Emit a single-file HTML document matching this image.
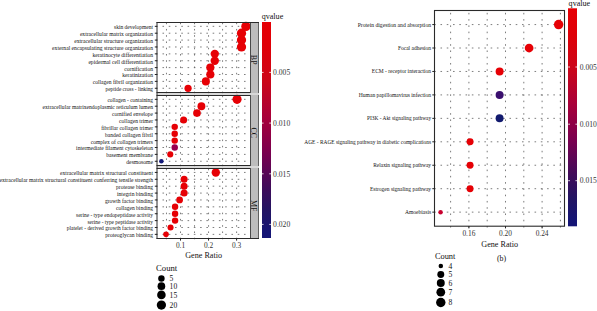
<!DOCTYPE html>
<html><head><meta charset="utf-8"><style>
html,body{margin:0;padding:0;background:#fff;width:597px;height:311px;overflow:hidden}
svg{display:block;font-family:"Liberation Serif", serif}
</style></head><body>
<svg width="597" height="311" viewBox="0 0 597 311">
<rect width="597" height="311" fill="#fff"/>
<defs><linearGradient id="cg" x1="0" y1="0" x2="0" y2="1"><stop offset="0" stop-color="#e60005"/><stop offset="0.12" stop-color="#df0008"/><stop offset="0.27" stop-color="#cc0618"/><stop offset="0.44" stop-color="#a8003a"/><stop offset="0.61" stop-color="#780050"/><stop offset="0.77" stop-color="#3e0c5a"/><stop offset="0.87" stop-color="#231462"/><stop offset="0.975" stop-color="#151575"/><stop offset="1" stop-color="#151575"/></linearGradient></defs>
<rect x="157.0" y="93.0" width="102.00" height="2.00" fill="#d8d8d8"/>
<rect x="157.0" y="166.0" width="102.00" height="2.00" fill="#d8d8d8"/>
<g stroke="#666" stroke-width="0.85" fill="none" stroke-dasharray="1.57 4.7">
<line x1="156.22" y1="26.33" x2="250.5" y2="26.33"/>
<line x1="156.22" y1="33.21" x2="250.5" y2="33.21"/>
<line x1="156.22" y1="40.09" x2="250.5" y2="40.09"/>
<line x1="156.22" y1="46.98" x2="250.5" y2="46.98"/>
<line x1="156.22" y1="53.86" x2="250.5" y2="53.86"/>
<line x1="156.22" y1="60.74" x2="250.5" y2="60.74"/>
<line x1="156.22" y1="67.62" x2="250.5" y2="67.62"/>
<line x1="156.22" y1="74.51" x2="250.5" y2="74.51"/>
<line x1="156.22" y1="81.39" x2="250.5" y2="81.39"/>
<line x1="156.22" y1="88.27" x2="250.5" y2="88.27"/>
<line x1="166.47" y1="93.18" x2="166.47" y2="22.20"/>
<line x1="180.50" y1="93.18" x2="180.50" y2="22.20"/>
<line x1="194.53" y1="93.18" x2="194.53" y2="22.20"/>
<line x1="208.55" y1="93.18" x2="208.55" y2="22.20"/>
<line x1="222.57" y1="93.18" x2="222.57" y2="22.20"/>
<line x1="236.60" y1="93.18" x2="236.60" y2="22.20"/>
</g>
<rect x="250.5" y="22.0" width="8" height="71.00" fill="#bdbdbd"/>
<line x1="258.5" y1="22.0" x2="258.5" y2="93.0" stroke="#606060" stroke-width="1"/>
<text x="253.90" y="59.70" font-size="7.9" fill="#111" text-anchor="middle" dominant-baseline="central" transform="rotate(90 253.90 59.70)">BP</text>
<circle cx="245.95" cy="26.33" r="4.70" fill="#e60005"/>
<circle cx="241.50" cy="33.21" r="4.63" fill="#e60005"/>
<circle cx="241.50" cy="40.09" r="4.63" fill="#e60005"/>
<circle cx="241.50" cy="46.98" r="4.63" fill="#e60005"/>
<circle cx="214.78" cy="53.86" r="4.20" fill="#e60005"/>
<circle cx="214.78" cy="60.74" r="4.20" fill="#e60005"/>
<circle cx="210.33" cy="67.62" r="4.11" fill="#e60005"/>
<circle cx="210.33" cy="74.51" r="4.11" fill="#e60005"/>
<circle cx="205.88" cy="81.39" r="4.03" fill="#e60005"/>
<circle cx="188.07" cy="88.27" r="3.63" fill="#e60005"/>
<path d="M156.5 22.5H250.5V92.5H156.5" fill="none" stroke="#2a2a2a" stroke-width="1"/>
<line x1="250.5" y1="22.0" x2="250.5" y2="93.0" stroke="#4a4a4a" stroke-width="1"/>
<line x1="154.8" y1="26.33" x2="157.0" y2="26.33" stroke="#222" stroke-width="1"/>
<text x="114.1" y="29.23" font-size="5.6" textLength="38.90" lengthAdjust="spacingAndGlyphs" fill="#111">skin development</text>
<line x1="154.8" y1="33.21" x2="157.0" y2="33.21" stroke="#222" stroke-width="1"/>
<text x="79.9" y="36.11" font-size="5.6" textLength="73.10" lengthAdjust="spacingAndGlyphs" fill="#111">extracellular matrix organization</text>
<line x1="154.8" y1="40.09" x2="157.0" y2="40.09" stroke="#222" stroke-width="1"/>
<text x="74.2" y="42.99" font-size="5.6" textLength="78.80" lengthAdjust="spacingAndGlyphs" fill="#111">extracellular structure organization</text>
<line x1="154.8" y1="46.98" x2="157.0" y2="46.98" stroke="#222" stroke-width="1"/>
<text x="52.1" y="49.88" font-size="5.6" textLength="100.90" lengthAdjust="spacingAndGlyphs" fill="#111">external encapsulating structure organization</text>
<line x1="154.8" y1="53.86" x2="157.0" y2="53.86" stroke="#222" stroke-width="1"/>
<text x="92.5" y="56.76" font-size="5.6" textLength="60.50" lengthAdjust="spacingAndGlyphs" fill="#111">keratinocyte differentiation</text>
<line x1="154.8" y1="60.74" x2="157.0" y2="60.74" stroke="#222" stroke-width="1"/>
<text x="88.4" y="63.64" font-size="5.6" textLength="64.60" lengthAdjust="spacingAndGlyphs" fill="#111">epidermal cell differentiation</text>
<line x1="154.8" y1="67.62" x2="157.0" y2="67.62" stroke="#222" stroke-width="1"/>
<text x="124.3" y="70.52" font-size="5.6" textLength="28.70" lengthAdjust="spacingAndGlyphs" fill="#111">cornification</text>
<line x1="154.8" y1="74.51" x2="157.0" y2="74.51" stroke="#222" stroke-width="1"/>
<text x="122.3" y="77.41" font-size="5.6" textLength="30.70" lengthAdjust="spacingAndGlyphs" fill="#111">keratinization</text>
<line x1="154.8" y1="81.39" x2="157.0" y2="81.39" stroke="#222" stroke-width="1"/>
<text x="92.8" y="84.29" font-size="5.6" textLength="60.20" lengthAdjust="spacingAndGlyphs" fill="#111">collagen fibril organization</text>
<line x1="154.8" y1="88.27" x2="157.0" y2="88.27" stroke="#222" stroke-width="1"/>
<text x="105.6" y="91.17" font-size="5.6" textLength="47.40" lengthAdjust="spacingAndGlyphs" fill="#111">peptide cross - linking</text>
<g stroke="#666" stroke-width="0.85" fill="none" stroke-dasharray="1.57 4.7">
<line x1="156.22" y1="99.33" x2="250.5" y2="99.33"/>
<line x1="156.22" y1="106.21" x2="250.5" y2="106.21"/>
<line x1="156.22" y1="113.09" x2="250.5" y2="113.09"/>
<line x1="156.22" y1="119.98" x2="250.5" y2="119.98"/>
<line x1="156.22" y1="126.86" x2="250.5" y2="126.86"/>
<line x1="156.22" y1="133.74" x2="250.5" y2="133.74"/>
<line x1="156.22" y1="140.62" x2="250.5" y2="140.62"/>
<line x1="156.22" y1="147.51" x2="250.5" y2="147.51"/>
<line x1="156.22" y1="154.39" x2="250.5" y2="154.39"/>
<line x1="156.22" y1="161.27" x2="250.5" y2="161.27"/>
<line x1="166.47" y1="166.18" x2="166.47" y2="95.20"/>
<line x1="180.50" y1="166.18" x2="180.50" y2="95.20"/>
<line x1="194.53" y1="166.18" x2="194.53" y2="95.20"/>
<line x1="208.55" y1="166.18" x2="208.55" y2="95.20"/>
<line x1="222.57" y1="166.18" x2="222.57" y2="95.20"/>
<line x1="236.60" y1="166.18" x2="236.60" y2="95.20"/>
</g>
<rect x="250.5" y="95.0" width="8" height="71.00" fill="#bdbdbd"/>
<line x1="258.5" y1="95.0" x2="258.5" y2="166.0" stroke="#606060" stroke-width="1"/>
<text x="253.90" y="132.70" font-size="7.9" fill="#111" text-anchor="middle" dominant-baseline="central" transform="rotate(90 253.90 132.70)">CC</text>
<circle cx="237.05" cy="99.33" r="4.57" fill="#e60005"/>
<circle cx="201.43" cy="106.21" r="3.94" fill="#e60005"/>
<circle cx="196.97" cy="113.09" r="3.84" fill="#e60005"/>
<circle cx="183.62" cy="119.98" r="3.51" fill="#e60005"/>
<circle cx="174.71" cy="126.86" r="3.22" fill="#e60005"/>
<circle cx="174.71" cy="133.74" r="3.22" fill="#e60005"/>
<circle cx="174.71" cy="140.62" r="3.22" fill="#e60005"/>
<circle cx="174.71" cy="147.51" r="3.22" fill="#990050"/>
<circle cx="170.26" cy="154.39" r="3.04" fill="#e60005"/>
<circle cx="161.35" cy="161.27" r="2.25" fill="#141a7a"/>
<path d="M156.5 95.5H250.5V165.5H156.5" fill="none" stroke="#2a2a2a" stroke-width="1"/>
<line x1="250.5" y1="95.0" x2="250.5" y2="166.0" stroke="#4a4a4a" stroke-width="1"/>
<line x1="154.8" y1="99.33" x2="157.0" y2="99.33" stroke="#222" stroke-width="1"/>
<text x="107.4" y="102.23" font-size="5.6" textLength="45.60" lengthAdjust="spacingAndGlyphs" fill="#111">collagen - containing</text>
<line x1="154.8" y1="106.21" x2="157.0" y2="106.21" stroke="#222" stroke-width="1"/>
<text x="42.6" y="109.11" font-size="5.6" textLength="110.40" lengthAdjust="spacingAndGlyphs" fill="#111">extracellular matrixendoplasmic reticulum lumen</text>
<line x1="154.8" y1="113.09" x2="157.0" y2="113.09" stroke="#222" stroke-width="1"/>
<text x="112.1" y="115.99" font-size="5.6" textLength="40.90" lengthAdjust="spacingAndGlyphs" fill="#111">cornified envelope</text>
<line x1="154.8" y1="119.98" x2="157.0" y2="119.98" stroke="#222" stroke-width="1"/>
<text x="119.1" y="122.88" font-size="5.6" textLength="33.90" lengthAdjust="spacingAndGlyphs" fill="#111">collagen trimer</text>
<line x1="154.8" y1="126.86" x2="157.0" y2="126.86" stroke="#222" stroke-width="1"/>
<text x="101.2" y="129.76" font-size="5.6" textLength="51.80" lengthAdjust="spacingAndGlyphs" fill="#111">fibrillar collagen trimer</text>
<line x1="154.8" y1="133.74" x2="157.0" y2="133.74" stroke="#222" stroke-width="1"/>
<text x="105.0" y="136.64" font-size="5.6" textLength="48.00" lengthAdjust="spacingAndGlyphs" fill="#111">banded collagen fibril</text>
<line x1="154.8" y1="140.62" x2="157.0" y2="140.62" stroke="#222" stroke-width="1"/>
<text x="90.8" y="143.52" font-size="5.6" textLength="62.20" lengthAdjust="spacingAndGlyphs" fill="#111">complex of collagen trimers</text>
<line x1="154.8" y1="147.51" x2="157.0" y2="147.51" stroke="#222" stroke-width="1"/>
<text x="76.1" y="150.41" font-size="5.6" textLength="76.90" lengthAdjust="spacingAndGlyphs" fill="#111">intermediate filament cytoskeleton</text>
<line x1="154.8" y1="154.39" x2="157.0" y2="154.39" stroke="#222" stroke-width="1"/>
<text x="106.2" y="157.29" font-size="5.6" textLength="46.80" lengthAdjust="spacingAndGlyphs" fill="#111">basement membrane</text>
<line x1="154.8" y1="161.27" x2="157.0" y2="161.27" stroke="#222" stroke-width="1"/>
<text x="126.3" y="164.17" font-size="5.6" textLength="26.70" lengthAdjust="spacingAndGlyphs" fill="#111">desmosome</text>
<g stroke="#666" stroke-width="0.85" fill="none" stroke-dasharray="1.57 4.7">
<line x1="156.22" y1="172.43" x2="250.5" y2="172.43"/>
<line x1="156.22" y1="179.31" x2="250.5" y2="179.31"/>
<line x1="156.22" y1="186.19" x2="250.5" y2="186.19"/>
<line x1="156.22" y1="193.08" x2="250.5" y2="193.08"/>
<line x1="156.22" y1="199.96" x2="250.5" y2="199.96"/>
<line x1="156.22" y1="206.84" x2="250.5" y2="206.84"/>
<line x1="156.22" y1="213.72" x2="250.5" y2="213.72"/>
<line x1="156.22" y1="220.61" x2="250.5" y2="220.61"/>
<line x1="156.22" y1="227.49" x2="250.5" y2="227.49"/>
<line x1="156.22" y1="234.37" x2="250.5" y2="234.37"/>
<line x1="166.47" y1="239.28" x2="166.47" y2="168.30"/>
<line x1="180.50" y1="239.28" x2="180.50" y2="168.30"/>
<line x1="194.53" y1="239.28" x2="194.53" y2="168.30"/>
<line x1="208.55" y1="239.28" x2="208.55" y2="168.30"/>
<line x1="222.57" y1="239.28" x2="222.57" y2="168.30"/>
<line x1="236.60" y1="239.28" x2="236.60" y2="168.30"/>
</g>
<rect x="250.5" y="168.0" width="8" height="71.00" fill="#bdbdbd"/>
<line x1="258.5" y1="168.0" x2="258.5" y2="239.0" stroke="#606060" stroke-width="1"/>
<text x="253.90" y="205.80" font-size="7.9" fill="#111" text-anchor="middle" dominant-baseline="central" transform="rotate(90 253.90 205.80)">MF</text>
<circle cx="215.79" cy="172.43" r="4.20" fill="#e60005"/>
<circle cx="184.12" cy="179.31" r="3.51" fill="#e60005"/>
<circle cx="184.12" cy="186.19" r="3.51" fill="#e60005"/>
<circle cx="184.12" cy="193.08" r="3.51" fill="#e60005"/>
<circle cx="179.60" cy="199.96" r="3.37" fill="#e60005"/>
<circle cx="175.07" cy="206.84" r="3.22" fill="#e60005"/>
<circle cx="175.07" cy="213.72" r="3.22" fill="#e60005"/>
<circle cx="175.07" cy="220.61" r="3.22" fill="#e60005"/>
<circle cx="170.55" cy="227.49" r="3.04" fill="#e60005"/>
<circle cx="166.02" cy="234.37" r="2.81" fill="#e60005"/>
<path d="M156.5 168.5H250.5V238.5H156.5" fill="none" stroke="#2a2a2a" stroke-width="1"/>
<line x1="250.5" y1="168.0" x2="250.5" y2="239.0" stroke="#4a4a4a" stroke-width="1"/>
<line x1="154.8" y1="172.43" x2="157.0" y2="172.43" stroke="#222" stroke-width="1"/>
<text x="60.0" y="175.33" font-size="5.6" textLength="93.00" lengthAdjust="spacingAndGlyphs" fill="#111">extracellular matrix structural constituent</text>
<line x1="154.8" y1="179.31" x2="157.0" y2="179.31" stroke="#222" stroke-width="1"/>
<text x="-0.6" y="182.21" font-size="5.6" textLength="153.60" lengthAdjust="spacingAndGlyphs" fill="#111">extracellular matrix structural constituent conferring tensile strength</text>
<line x1="154.8" y1="186.19" x2="157.0" y2="186.19" stroke="#222" stroke-width="1"/>
<text x="116.0" y="189.09" font-size="5.6" textLength="37.00" lengthAdjust="spacingAndGlyphs" fill="#111">protease binding</text>
<line x1="154.8" y1="193.08" x2="157.0" y2="193.08" stroke="#222" stroke-width="1"/>
<text x="117.0" y="195.98" font-size="5.6" textLength="36.00" lengthAdjust="spacingAndGlyphs" fill="#111">integrin binding</text>
<line x1="154.8" y1="199.96" x2="157.0" y2="199.96" stroke="#222" stroke-width="1"/>
<text x="104.9" y="202.86" font-size="5.6" textLength="48.10" lengthAdjust="spacingAndGlyphs" fill="#111">growth factor binding</text>
<line x1="154.8" y1="206.84" x2="157.0" y2="206.84" stroke="#222" stroke-width="1"/>
<text x="116.0" y="209.74" font-size="5.6" textLength="37.00" lengthAdjust="spacingAndGlyphs" fill="#111">collagen binding</text>
<line x1="154.8" y1="213.72" x2="157.0" y2="213.72" stroke="#222" stroke-width="1"/>
<text x="76.1" y="216.62" font-size="5.6" textLength="76.90" lengthAdjust="spacingAndGlyphs" fill="#111">serine - type endopeptidase activity</text>
<line x1="154.8" y1="220.61" x2="157.0" y2="220.61" stroke="#222" stroke-width="1"/>
<text x="87.5" y="223.51" font-size="5.6" textLength="65.50" lengthAdjust="spacingAndGlyphs" fill="#111">serine - type peptidase activity</text>
<line x1="154.8" y1="227.49" x2="157.0" y2="227.49" stroke="#222" stroke-width="1"/>
<text x="66.7" y="230.39" font-size="5.6" textLength="86.30" lengthAdjust="spacingAndGlyphs" fill="#111">platelet - derived growth factor binding</text>
<line x1="154.8" y1="234.37" x2="157.0" y2="234.37" stroke="#222" stroke-width="1"/>
<text x="105.3" y="237.27" font-size="5.6" textLength="47.70" lengthAdjust="spacingAndGlyphs" fill="#111">proteoglycan binding</text>
<line x1="157.0" y1="22" x2="157.0" y2="239" stroke="#2a2a2a" stroke-width="1"/>
<line x1="250" y1="22.5" x2="259" y2="22.5" stroke="#2a2a2a" stroke-width="1"/>
<line x1="250" y1="238.5" x2="259" y2="238.5" stroke="#2a2a2a" stroke-width="1"/>
<line x1="180.50" y1="238.4" x2="180.50" y2="240.6" stroke="#222" stroke-width="1"/>
<text x="180.50" y="247.8" font-size="7.4" text-anchor="middle" fill="#333">0.1</text>
<line x1="208.55" y1="238.4" x2="208.55" y2="240.6" stroke="#222" stroke-width="1"/>
<text x="208.55" y="247.8" font-size="7.4" text-anchor="middle" fill="#333">0.2</text>
<line x1="236.60" y1="238.4" x2="236.60" y2="240.6" stroke="#222" stroke-width="1"/>
<text x="236.60" y="247.8" font-size="7.4" text-anchor="middle" fill="#333">0.3</text>
<text x="203.6" y="257.6" font-size="8.15" text-anchor="middle" fill="#111">Gene Ratio</text>
<rect x="262" y="22" width="9" height="216" fill="url(#cg)"/>
<text x="261.7" y="18.5" font-size="8.1" fill="#111">qvalue</text>
<line x1="261.8" y1="72.4" x2="263.6" y2="72.4" stroke="#fff" stroke-width="0.8"/>
<line x1="269.2" y1="72.4" x2="271" y2="72.4" stroke="#fff" stroke-width="0.8"/>
<text x="273.1" y="75.10" font-size="7.6" fill="#333">0.005</text>
<line x1="261.8" y1="123.1" x2="263.6" y2="123.1" stroke="#fff" stroke-width="0.8"/>
<line x1="269.2" y1="123.1" x2="271" y2="123.1" stroke="#fff" stroke-width="0.8"/>
<text x="273.1" y="125.80" font-size="7.6" fill="#333">0.010</text>
<line x1="261.8" y1="173.8" x2="263.6" y2="173.8" stroke="#fff" stroke-width="0.8"/>
<line x1="269.2" y1="173.8" x2="271" y2="173.8" stroke="#fff" stroke-width="0.8"/>
<text x="273.1" y="176.50" font-size="7.6" fill="#333">0.015</text>
<line x1="261.8" y1="224.4" x2="263.6" y2="224.4" stroke="#fff" stroke-width="0.8"/>
<line x1="269.2" y1="224.4" x2="271" y2="224.4" stroke="#fff" stroke-width="0.8"/>
<text x="273.1" y="227.10" font-size="7.6" fill="#333">0.020</text>
<text x="156" y="271" font-size="8.7" fill="#111">Count</text>
<circle cx="161.4" cy="278.5" r="3.22" fill="#000"/>
<text x="169.6" y="281.10" font-size="7.6" fill="#111">5</text>
<circle cx="161.4" cy="286.2" r="3.84" fill="#000"/>
<text x="169.6" y="288.80" font-size="7.6" fill="#111">10</text>
<circle cx="161.4" cy="294.9" r="4.28" fill="#000"/>
<text x="169.6" y="297.50" font-size="7.6" fill="#111">15</text>
<circle cx="161.4" cy="305.1" r="4.63" fill="#000"/>
<text x="169.6" y="307.70" font-size="7.6" fill="#111">20</text>
<g stroke="#666" stroke-width="0.85" fill="none" stroke-dasharray="1.57 4.7">
<line x1="434.22" y1="24.57" x2="564.5" y2="24.57"/>
<line x1="434.22" y1="48.01" x2="564.5" y2="48.01"/>
<line x1="434.22" y1="71.46" x2="564.5" y2="71.46"/>
<line x1="434.22" y1="94.90" x2="564.5" y2="94.90"/>
<line x1="434.22" y1="118.35" x2="564.5" y2="118.35"/>
<line x1="434.22" y1="141.80" x2="564.5" y2="141.80"/>
<line x1="434.22" y1="165.24" x2="564.5" y2="165.24"/>
<line x1="434.22" y1="188.69" x2="564.5" y2="188.69"/>
<line x1="434.22" y1="212.13" x2="564.5" y2="212.13"/>
<line x1="450.60" y1="227.58" x2="450.60" y2="10.50"/>
<line x1="468.90" y1="227.58" x2="468.90" y2="10.50"/>
<line x1="487.20" y1="227.58" x2="487.20" y2="10.50"/>
<line x1="505.50" y1="227.58" x2="505.50" y2="10.50"/>
<line x1="523.80" y1="227.58" x2="523.80" y2="10.50"/>
<line x1="542.10" y1="227.58" x2="542.10" y2="10.50"/>
<line x1="560.40" y1="227.58" x2="560.40" y2="10.50"/>
</g>
<circle cx="558.63" cy="24.57" r="4.70" fill="#e60005"/>
<circle cx="529.11" cy="48.01" r="4.37" fill="#e60005"/>
<circle cx="499.60" cy="71.46" r="3.98" fill="#e60005"/>
<circle cx="499.60" cy="94.90" r="3.98" fill="#3a0f6e"/>
<circle cx="499.60" cy="118.35" r="3.98" fill="#121a6e"/>
<circle cx="470.08" cy="141.80" r="3.48" fill="#e60005"/>
<circle cx="470.08" cy="165.24" r="3.48" fill="#e60005"/>
<circle cx="470.08" cy="188.69" r="3.48" fill="#e60005"/>
<circle cx="440.56" cy="212.13" r="2.25" fill="#c8002e"/>
<rect x="434.5" y="10.5" width="130.00" height="215.70" fill="none" stroke="#2a2a2a" stroke-width="1.1"/>
<line x1="432.3" y1="24.57" x2="434.5" y2="24.57" stroke="#222" stroke-width="1"/>
<text x="357.7" y="26.57" font-size="5.55" textLength="73.40" lengthAdjust="spacingAndGlyphs" fill="#111">Protein digestion and absorption</text>
<line x1="432.3" y1="48.01" x2="434.5" y2="48.01" stroke="#222" stroke-width="1"/>
<text x="397.9" y="50.01" font-size="5.55" textLength="33.20" lengthAdjust="spacingAndGlyphs" fill="#111">Focal adhesion</text>
<line x1="432.3" y1="71.46" x2="434.5" y2="71.46" stroke="#222" stroke-width="1"/>
<text x="371.8" y="73.46" font-size="5.55" textLength="59.30" lengthAdjust="spacingAndGlyphs" fill="#111">ECM - receptor interaction</text>
<line x1="432.3" y1="94.90" x2="434.5" y2="94.90" stroke="#222" stroke-width="1"/>
<text x="358.8" y="96.90" font-size="5.55" textLength="72.30" lengthAdjust="spacingAndGlyphs" fill="#111">Human papillomavirus infection</text>
<line x1="432.3" y1="118.35" x2="434.5" y2="118.35" stroke="#222" stroke-width="1"/>
<text x="367.1" y="120.35" font-size="5.55" textLength="64.00" lengthAdjust="spacingAndGlyphs" fill="#111">PI3K - Akt signaling pathway</text>
<line x1="432.3" y1="141.80" x2="434.5" y2="141.80" stroke="#222" stroke-width="1"/>
<text x="304.3" y="143.80" font-size="5.55" textLength="126.80" lengthAdjust="spacingAndGlyphs" fill="#111">AGE - RAGE signaling pathway in diabetic complications</text>
<line x1="432.3" y1="165.24" x2="434.5" y2="165.24" stroke="#222" stroke-width="1"/>
<text x="373.2" y="167.24" font-size="5.55" textLength="57.90" lengthAdjust="spacingAndGlyphs" fill="#111">Relaxin signaling pathway</text>
<line x1="432.3" y1="188.69" x2="434.5" y2="188.69" stroke="#222" stroke-width="1"/>
<text x="370.0" y="190.69" font-size="5.55" textLength="61.10" lengthAdjust="spacingAndGlyphs" fill="#111">Estrogen signaling pathway</text>
<line x1="432.3" y1="212.13" x2="434.5" y2="212.13" stroke="#222" stroke-width="1"/>
<text x="405.0" y="214.13" font-size="5.55" textLength="26.10" lengthAdjust="spacingAndGlyphs" fill="#111">Amoebiasis</text>
<line x1="468.90" y1="226.2" x2="468.90" y2="228.39999999999998" stroke="#222" stroke-width="1"/>
<text x="468.90" y="236.10" font-size="7.4" text-anchor="middle" fill="#333">0.16</text>
<line x1="505.50" y1="226.2" x2="505.50" y2="228.39999999999998" stroke="#222" stroke-width="1"/>
<text x="505.50" y="236.10" font-size="7.4" text-anchor="middle" fill="#333">0.20</text>
<line x1="542.10" y1="226.2" x2="542.10" y2="228.39999999999998" stroke="#222" stroke-width="1"/>
<text x="542.10" y="236.10" font-size="7.4" text-anchor="middle" fill="#333">0.24</text>
<text x="499.7" y="246.7" font-size="8.15" text-anchor="middle" fill="#111">Gene Ratio</text>
<text x="501.5" y="260.6" font-size="7.9" text-anchor="middle" fill="#111">(b)</text>
<rect x="568" y="8.3" width="9" height="218" fill="url(#cg)"/>
<text x="568.6" y="5.6" font-size="8.1" fill="#111">qvalue</text>
<line x1="568.2" y1="67.0" x2="570" y2="67.0" stroke="#fff" stroke-width="0.8"/>
<line x1="575.4" y1="67.0" x2="577.2" y2="67.0" stroke="#fff" stroke-width="0.8"/>
<text x="579.7" y="69.70" font-size="7.6" fill="#333">0.005</text>
<line x1="568.2" y1="124.2" x2="570" y2="124.2" stroke="#fff" stroke-width="0.8"/>
<line x1="575.4" y1="124.2" x2="577.2" y2="124.2" stroke="#fff" stroke-width="0.8"/>
<text x="579.7" y="126.90" font-size="7.6" fill="#333">0.010</text>
<line x1="568.2" y1="180.7" x2="570" y2="180.7" stroke="#fff" stroke-width="0.8"/>
<line x1="575.4" y1="180.7" x2="577.2" y2="180.7" stroke="#fff" stroke-width="0.8"/>
<text x="579.7" y="183.40" font-size="7.6" fill="#333">0.015</text>
<text x="434.9" y="258.8" font-size="8.4" fill="#111">Count</text>
<circle cx="440.8" cy="266.1" r="2.25" fill="#000"/>
<text x="448.6" y="268.70" font-size="7.6" fill="#111">4</text>
<circle cx="440.8" cy="274.5" r="3.48" fill="#000"/>
<text x="448.6" y="277.10" font-size="7.6" fill="#111">5</text>
<circle cx="440.8" cy="282.9" r="3.98" fill="#000"/>
<text x="448.6" y="285.50" font-size="7.6" fill="#111">6</text>
<circle cx="440.8" cy="292.2" r="4.37" fill="#000"/>
<text x="448.6" y="294.80" font-size="7.6" fill="#111">7</text>
<circle cx="440.8" cy="302.5" r="4.70" fill="#000"/>
<text x="448.6" y="305.10" font-size="7.6" fill="#111">8</text>
</svg>
</body></html>
